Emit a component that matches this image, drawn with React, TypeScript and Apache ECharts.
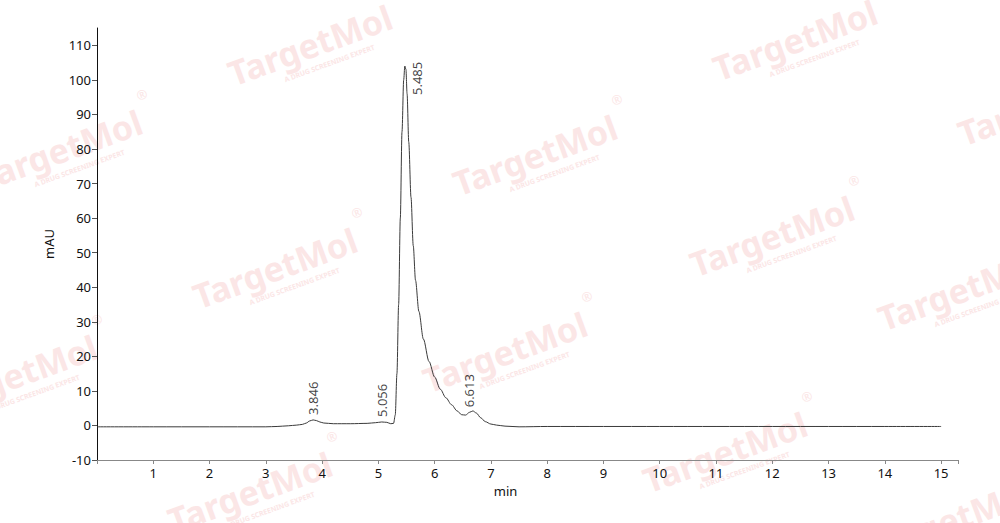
import React, { useEffect, useRef } from "react";
import * as echarts from "echarts";

const times = [0, 1, 2, 3.0, 3.2, 3.4, 3.55, 3.65, 3.72, 3.78, 3.84, 3.9, 3.96, 4.03, 4.2, 4.5, 4.8, 4.95, 5.06, 5.15, 5.22, 5.27, 5.3, 5.33, 5.36, 5.39, 5.42, 5.45, 5.47, 5.49, 5.51, 5.54, 5.58, 5.62, 5.66, 5.72, 5.8, 5.9, 6.0, 6.1, 6.2, 6.3, 6.4, 6.48, 6.55, 6.62, 6.68, 6.74, 6.82, 6.9, 7.0, 7.1, 7.25, 7.5, 8.0, 9, 10, 11, 12, 13, 14, 15];
const absorbance = [-0.4, -0.4, -0.4, -0.4, -0.3, -0.1, 0.1, 0.3, 0.7, 1.3, 1.6, 1.4, 1.0, 0.7, 0.5, 0.5, 0.6, 0.8, 1.0, 0.9, 0.5, 0.6, 3, 15, 35, 60, 85, 100, 104, 103, 96, 82, 66, 52, 42, 33, 25, 18.5, 14, 10.5, 8, 6, 4.2, 3.1, 3.0, 3.8, 4.2, 3.6, 2.2, 1.1, 0.4, 0.1, -0.2, -0.4, -0.3, -0.3, -0.3, -0.3, -0.3, -0.3, -0.3, -0.3];

const peakTimes = [3.846, 5.056, 5.485, 6.613];
const peakHeights = [1.6, 1.0, 104, 3.8];
const peakLabels = ["3.846", "5.056", "5.485", "6.613"];

const xTicks = [1, 2, 3, 4, 5, 6, 7, 8, 9, 10, 11, 12, 13, 14, 15];
const yTicks = [-10, 0, 10, 20, 30, 40, 50, 60, 70, 80, 90, 100, 110];

const watermarkCenters = [
  [310, 45], [795, 40], [1040, 105], [60, 150], [535, 155], [772, 236],
  [275, 268], [960, 290], [505, 352], [15, 375], [725, 452], [250, 492], [950, 520],
];

const FONT = "'Noto Sans', sans-serif";

export default function App() {
  const ref = useRef<HTMLDivElement>(null);
  useEffect(() => {
    if (!ref.current) return;
    const chart = echarts.init(ref.current, null, { renderer: "svg" });
    const pink = "#fbe6e6";
    const graphic = watermarkCenters.map(([x, y]) => ({
      type: "group",
      x,
      y,
      rotation: 0.35,
      silent: true,
      z: -10,
      children: [
        {
          type: "text",
          x: 0,
          y: 0,
          style: {
            text: "TargetMol",
            font: `bold 34px ${FONT}`,
            fill: pink,
            align: "center",
            verticalAlign: "middle",
          },
        },
        {
          type: "text",
          x: 12,
          y: 24,
          style: {
            text: "A DRUG SCREENING EXPERT",
            font: `bold 7px ${FONT}`,
            fill: pink,
            align: "center",
            verticalAlign: "middle",
          },
        },
        {
          type: "text",
          x: 96,
          y: -24,
          style: {
            text: "®",
            font: `13px ${FONT}`,
            fill: pink,
            align: "center",
            verticalAlign: "middle",
          },
        },
      ],
    }));

    chart.setOption({
      animation: false,
      backgroundColor: "#ffffff",
      textStyle: { fontFamily: FONT },
      graphic,
      grid: { left: 97, top: 28, right: 42, bottom: 63 },
      xAxis: {
        type: "value",
        min: 0,
        max: 15.3,
        interval: 1,
        name: "min",
        nameLocation: "middle",
        nameGap: 24,
        nameTextStyle: { fontSize: 13, color: "#111", padding: [0, 44, 0, 0] },
        axisLine: { onZero: false, lineStyle: { color: "#888", width: 1 } },
        axisTick: { show: true, length: 4, lineStyle: { color: "#888" } },
        splitLine: { show: false },
        axisLabel: {
          fontSize: 13,
          color: "#111",
          margin: 6,
          formatter: (v: number) => (xTicks.includes(v) ? String(v) : ""),
        },
      },
      yAxis: {
        type: "value",
        min: -10,
        max: 115,
        interval: 10,
        name: "mAU",
        nameLocation: "middle",
        nameGap: 42,
        nameTextStyle: { fontSize: 13, color: "#111" },
        axisLine: { show: true, lineStyle: { color: "#111", width: 1 } },
        axisTick: {
          show: true,
          length: 5,
          lineStyle: { color: "#555" },
          customValues: yTicks,
        },
        splitLine: { show: false },
        axisLabel: {
          fontSize: 13,
          color: "#111",
          margin: 6,
          customValues: yTicks,
          formatter: (v: number) => (yTicks.includes(v) ? String(v) : ""),
        },
      },
      series: [
        {
          type: "line",
          data: times.map((t, i) => [t, absorbance[i]]),
          showSymbol: false,
          smooth: 0.3,
          smoothMonotone: "x",
          lineStyle: { color: "#3a3a3a", width: 1 },
          silent: true,
          z: 3,
        },
        {
          type: "scatter",
          symbolSize: 0,
          silent: true,
          z: 4,
          data: peakTimes.map((t, i) => ({
            value: [t, peakHeights[i]],
            name: peakLabels[i],
            label: i === 2 ? { offset: [-34, 11] } : undefined,
          })),
          label: {
            show: true,
            formatter: (p: any) => p.name,
            position: "top",
            distance: 5,
            rotate: 90,
            align: "left",
            verticalAlign: "middle",
            fontSize: 13,
            color: "#111",
          },
        },
      ],
    });
    return () => chart.dispose();
  }, []);
  return <div ref={ref} style={{ width: 1000, height: 523, position: "absolute", left: 0, top: 0 }} />;
}
